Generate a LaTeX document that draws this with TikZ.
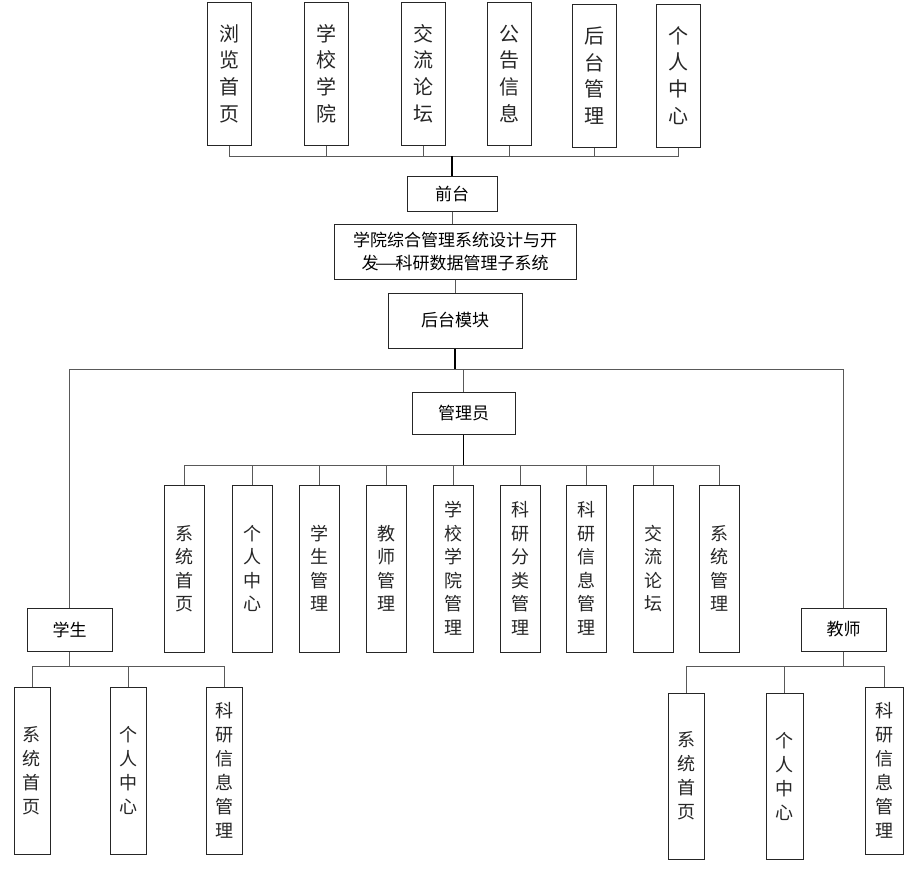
\documentclass[tikz,border=0pt]{standalone}
\usepackage{fontspec}
\newfontfamily\cjk{Noto Sans CJK SC}
\usetikzlibrary{calc}

\begin{document}
\begin{tikzpicture}[x=1pt,y=-1pt,
    box/.style={draw=black!85,line width=1pt,fill=white,inner sep=0pt,
      font=\cjk\fontsize{17}{23}\selectfont,align=center},
    topbox/.style={box,minimum width=44pt,minimum height=143pt,
      font=\cjk\fontsize{20}{26.7}\selectfont,text=black!85},
    vbox/.style={box,minimum width=40pt,minimum height=167pt,
      font=\cjk\fontsize{18}{23.5}\selectfont,text=black!85},
    subbox/.style={box,minimum width=36pt,minimum height=167pt,
      font=\cjk\fontsize{18}{24}\selectfont,text=black!85},
    link/.style={draw=black!65,line width=1pt},
    stem/.style={draw=black,line width=1.5pt}]
      \useasboundingbox (0,0) rectangle (918,870);
      % front end
      \node[topbox] (t1) at (229,73.5) {浏\\览\\首\\页};
      \node[topbox] (t2) at (326,73.5) {学\\校\\学\\院};
      \node[topbox] (t3) at (423,73.5) {交\\流\\论\\坛};
      \node[topbox] (t4) at (509,73.5) {公\\告\\信\\息};
      \node[topbox] (t5) at (594,75.5) {后\\台\\管\\理};
      \node[topbox] (t6) at (678,75.5) {个\\人\\中\\心};
      \node[box,minimum width=90pt,minimum height=35pt] (qt) at (452,193.5) {前台};
      \coordinate (topbus) at (452,156);
      \foreach \n in {t1,t2,t3,t4,t5,t6}
        \draw[link] (\n.south) |- (topbus);
      \draw[stem] (topbus) -- (qt.north);
      % system
      \node[box,minimum width=242pt,minimum height=55pt] (sys) at (455,251.5) {学院综合管理系统设计与开\\发\makebox[1em]{\scalebox{1.6}[1]{—}}科研数据管理子系统};
      \node[box,minimum width=134pt,minimum height=55pt] (ht) at (455,320.5) {后台模块};
      \draw[link] (qt.south) -- (qt.south |- sys.north);
      \draw[link] (sys.south) -- (ht.north);
      \coordinate (hub) at (455,369);
      \draw[stem] (ht.south) -- (hub);
      % admin
      \node[box,minimum width=103pt,minimum height=42pt] (adm) at (463.5,413) {管理员};
      \node[vbox] (a1) at (184,568.5) {系\\统\\首\\页};
      \node[vbox] (a2) at (252,568.5) {个\\人\\中\\心};
      \node[vbox] (a3) at (319,568.5) {学\\生\\管\\理};
      \node[vbox] (a4) at (386,568.5) {教\\师\\管\\理};
      \node[vbox] (a5) at (453,568.5) {学\\校\\学\\院\\管\\理};
      \node[vbox] (a6) at (520,568.5) {科\\研\\分\\类\\管\\理};
      \node[vbox] (a7) at (586,568.5) {科\\研\\信\\息\\管\\理};
      \node[vbox] (a8) at (653,568.5) {交\\流\\论\\坛};
      \node[vbox] (a9) at (719,568.5) {系\\统\\管\\理};
      \draw[link] (hub) -| (adm.north);
      \coordinate (admbus) at (463.5,465);
      \draw[stem] (adm.south) -- (admbus);
      \foreach \n in {a1,a2,a3,a4,a5,a6,a7,a8,a9}
        \draw[link] (admbus) -| (\n.north);
      % student
      \node[box,minimum width=85pt,minimum height=43pt] (stu) at (69.5,629.5) {学生};
      \node[subbox] (s1) at (32,770.5) {系\\统\\首\\页};
      \node[subbox] (s2) at (128,770.5) {个\\人\\中\\心};
      \node[subbox] (s3) at (224,770.5) {科\\研\\信\\息\\管\\理};
      \draw[link] (hub) -| (stu.north);
      \coordinate (stubus) at (69.5,666);
      \draw[link] (stu.south) -- (stubus);
      \foreach \n in {s1,s2,s3}
        \draw[link] (stubus) -| (\n.north);
      % teacher
      \node[box,minimum width=85pt,minimum height=43pt] (tea) at (843.5,629.5) {教师};
      \node[subbox,minimum height=166pt] (e1) at (686,776) {系\\统\\首\\页};
      \node[subbox,minimum height=166pt,minimum width=37pt] (e2) at (784.5,776) {个\\人\\中\\心};
      \node[subbox,minimum width=38pt] (e3) at (884,770.5) {科\\研\\信\\息\\管\\理};
      \draw[link] (hub) -| (tea.north);
      \coordinate (teabus) at (843.5,666);
      \draw[link] (tea.south) -- (teabus);
      \foreach \n in {e1,e2,e3}
        \draw[link] (teabus) -| (\n.north);
\end{tikzpicture}
\end{document}
